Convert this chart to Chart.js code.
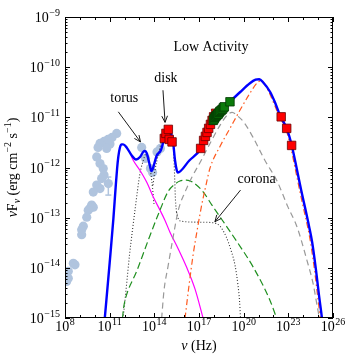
<!DOCTYPE html>
<html>
<head>
<meta charset="utf-8">
<script src="https://cdn.jsdelivr.net/npm/chart.js@4.4.0/dist/chart.umd.min.js"></script>
<style>
  html, body { margin: 0; padding: 0; background: #fff; }
  canvas { display: block; }
</style>
</head>
<body>
<canvas id="sedChart" width="354" height="362"></canvas>
<script>
// values are log10(nu / Hz) and log10(nuFnu / erg cm^-2 s^-1)

// radio / IR archival points (light blue circles)
const radioNu   = [11.47, 11.16, 10.89, 10.62, 10.35, 11.02, 10.80, 10.22, 10.13, 10.35, 10.57, 10.62, 10.46, 10.13, 10.35, 9.90, 9.79, 9.90, 9.68, 9.56, 9.46, 9.23, 9.12, 9.12, 8.56, 8.67, 8.22, 8.22, 8.11, 13.15, 13.41, 13.74, 13.88, 14.18, 14.41];
const radioFlux = [-11.32, -11.40, -11.44, -11.48, -11.52, -11.53, -11.62, -11.60, -11.79, -11.92, -12.02, -12.15, -12.22, -12.35, -12.42, -12.49, -12.75, -12.79, -12.81, -12.85, -12.99, -13.17, -13.24, -13.34, -13.91, -13.94, -14.07, -14.21, -14.27, -11.60, -11.82, -12.02, -12.10, -11.69, -11.62];
// the one radio point with an error bar
const errNu = 10.91;
const errFlux = -12.32;
const errLow = -12.55;
const errHigh = -12.19;

// red squares (optical/UV, X-ray, gamma)
const redNu   = [14.67, 14.78, 14.94, 15.00, 15.19, 17.11, 17.31, 17.43, 17.54, 17.65, 17.77, 17.88, 17.98, 18.12, 22.52, 22.89, 23.22];
const redFlux = [-11.42, -11.32, -11.24, -11.44, -11.49, -11.62, -11.46, -11.38, -11.30, -11.22, -11.14, -11.06, -10.99, -10.92, -10.99, -11.22, -11.56];

// green squares (hard X-ray)
const greenNu   = [17.96, 18.02, 18.07, 18.13, 18.19, 18.25, 18.30, 18.36, 18.41, 18.49, 18.57, 18.64, 18.70, 19.08];
const greenFlux = [-11.06, -11.03, -11.00, -10.98, -10.96, -10.94, -10.93, -10.90, -10.88, -10.86, -10.84, -10.81, -10.79, -10.69];

// total model (blue)
const totalNu   = [10.67, 11.0, 11.25, 11.4, 11.5, 11.58, 11.69, 11.8, 11.9, 12.14, 12.48, 12.77, 13.04, 13.25, 13.37, 13.5, 13.62, 13.71, 13.8, 13.88, 14.0, 14.16, 14.43, 14.6, 14.72, 14.83, 15.0, 15.17, 15.27, 15.39, 15.5, 15.57, 16.35, 17.11, 17.5, 17.9, 18.4, 19.08, 19.75, 20.42, 20.8, 21.05, 21.3, 21.77, 22.1, 22.44, 22.89, 23.23, 23.59, 23.86, 24.13, 24.39, 24.6, 24.86, 25.06, 25.26, 25.32];
const totalFlux = [-15.01, -13.9, -13.02, -12.4, -12.02, -11.79, -11.6, -11.54, -11.54, -11.6, -11.76, -11.84, -11.79, -11.69, -11.67, -11.72, -11.86, -11.97, -12.07, -12.04, -11.92, -11.76, -11.66, -11.49, -11.32, -11.26, -11.28, -11.36, -11.52, -11.86, -12.05, -12.1, -11.86, -11.63, -11.35, -11.08, -10.9, -10.69, -10.5, -10.32, -10.25, -10.24, -10.3, -10.49, -10.7, -10.96, -11.22, -11.56, -12.06, -12.45, -12.81, -13.17, -13.49, -14.05, -14.55, -15.01, -15.2];

// synchrotron (magenta)
const syncNu   = [12.45, 12.59, 13.04, 13.5, 13.93, 14.38, 14.71, 15.05, 15.6, 16.17, 16.73, 17.29];
const syncFlux = [-11.77, -11.86, -12.06, -12.3, -12.59, -12.85, -13.05, -13.29, -13.62, -13.99, -14.42, -15.02];

// torus (dotted)
const torusNu   = [11.90, 12.13, 12.33, 12.53, 12.70, 13.04, 13.26, 13.41, 13.54, 13.67, 13.78, 13.88, 13.98];
const torusFlux = [-15.01, -14.35, -13.75, -13.25, -12.85, -12.11, -11.86, -11.74, -11.78, -11.96, -12.15, -12.41, -12.75];

// disk (dotted)
const diskNu   = [13.91, 14.04, 14.25, 14.51, 14.71, 14.92, 15.12, 15.25, 15.32, 15.37, 15.42, 15.49];
const diskFlux = [-12.35, -12.06, -11.76, -11.46, -11.32, -11.29, -11.36, -11.52, -11.82, -12.25, -12.65, -12.89];

// corona (dotted)
const coronaNu   = [15.49, 15.59, 15.79, 17.07, 17.94, 18.41, 18.81, 19.15, 19.42, 19.62, 19.72, 19.79];
const coronaFlux = [-12.89, -13.01, -13.07, -13.09, -13.10, -13.17, -13.37, -13.65, -13.95, -14.35, -14.65, -15.01];

// SSC (green dashed)
const sscNu   = [11.86, 11.93, 12.03, 12.84, 13.64, 14.38, 14.94, 15.39, 15.72, 16.17, 16.62, 17.29, 17.87, 18.68, 19.53, 20.65, 21.77, 22.22];
const sscFlux = [-15.01, -14.81, -14.65, -14.05, -13.41, -12.85, -12.47, -12.33, -12.27, -12.25, -12.30, -12.49, -12.75, -13.10, -13.47, -13.99, -14.65, -15.01];

// EC disk (grey dashed)
const ecDiskNu   = [14.49, 14.65, 14.92, 15.25, 15.61, 16.06, 16.53, 17.07, 17.74, 18.41, 18.88, 19.22, 19.62, 20.02, 20.63, 21.43, 22.24, 22.98, 23.59, 24.25, 24.66, 24.99, 25.09];
const ecDiskFlux = [-15.01, -14.45, -13.97, -13.41, -12.85, -12.49, -12.19, -11.90, -11.52, -11.16, -10.96, -10.90, -10.98, -11.10, -11.40, -11.86, -12.27, -12.79, -13.19, -13.85, -14.31, -14.85, -15.01];

// EC torus (orange dash-dot)
const ecTorusNu   = [16.06, 16.33, 16.60, 16.90, 17.18, 17.47, 17.74, 18.41, 19.08, 19.75, 20.42, 20.89, 21.16, 21.4, 21.7, 22.4, 22.85, 23.15, 23.5, 23.77, 24.03, 24.3, 24.5, 24.77, 24.97, 25.16];
const ecTorusFlux = [-15.01, -14.35, -13.75, -13.21, -12.75, -12.35, -12.01, -11.58, -11.22, -10.86, -10.52, -10.32, -10.27, -10.33, -10.5, -10.98, -11.25, -11.58, -12.08, -12.47, -12.83, -13.19, -13.51, -14.07, -14.57, -15.03];

// axis ticks (exponents)
const xTickExps = [8, 11, 14, 17, 20, 23, 26];
const yTickExps = [-9, -10, -11, -12, -13, -14, -15];

const FONT = '"Liberation Serif", "DejaVu Serif", serif';

function toPoints(nu, flux) {
    return nu.map((v, i) => ({ x: Math.pow(10, v), y: Math.pow(10, flux[i]) }));
}

function curve(nu, flux, color, width, dash, order) {
    return {
        data: toPoints(nu, flux),
        showLine: true,
        pointRadius: 0,
        borderColor: color,
        borderWidth: width,
        borderDash: dash,
        cubicInterpolationMode: 'monotone',
        clip: 0,
        order: order
    };
}

function powLabel(c, exp, x, y, align) {
    const base = '10';
    const sup = String(exp).replace('-', '\u2212');
    c.font = '14px ' + FONT;
    const wb = c.measureText(base).width;
    c.font = '10px ' + FONT;
    const ws = c.measureText(sup).width;
    const x0 = align === 'right' ? x - wb - ws - 0.5 : x - (wb + ws + 0.5) / 2;
    c.textAlign = 'left';
    c.textBaseline = 'alphabetic';
    c.font = '14px ' + FONT;
    c.fillText(base, x0, y);
    c.font = '10px ' + FONT;
    c.fillText(sup, x0 + wb + 0.5, y - 6.5);
}

function arrow(c, x1, y1, x2, y2) {
    c.beginPath();
    c.moveTo(x1, y1);
    c.lineTo(x2, y2);
    c.stroke();
    const a = Math.atan2(y2 - y1, x2 - x1), L = 7, w = 0.42;
    c.beginPath();
    c.moveTo(x2 - L * Math.cos(a - w), y2 - L * Math.sin(a - w));
    c.lineTo(x2, y2);
    c.lineTo(x2 - L * Math.cos(a + w), y2 - L * Math.sin(a + w));
    c.stroke();
}

// frame, inward ticks, tick labels, titles and annotations
const decor = {
    id: 'decor',
    afterDatasetsDraw(chart) {
        const c = chart.ctx;
        const { left, right, top, bottom } = chart.chartArea;
        const xs = chart.scales.x, ys = chart.scales.y;
        const px = (e) => xs.getPixelForValue(Math.pow(10, e));
        const py = (e) => ys.getPixelForValue(Math.pow(10, e));
        c.save();
        c.strokeStyle = '#000';
        c.fillStyle = '#000';
        c.lineWidth = 1;

        // ticks on x (every decade)
        c.beginPath();
        for (let e = 8; e <= 26; e++) {
            const x = Math.round(px(e)) + 0.5;
            const len = xTickExps.includes(e) ? 5 : 3;
            c.moveTo(x, bottom); c.lineTo(x, bottom - len);
            c.moveTo(x, top); c.lineTo(x, top + len);
        }
        // ticks on y (decades + minor)
        for (let e = -15; e <= -9; e++) {
            for (let m = 1; m <= 9; m++) {
                if (e === -9 && m > 1) break;
                const v = Math.log10(m) + e;
                const y = Math.round(py(v)) + 0.5;
                const len = m === 1 ? 5 : 2.5;
                c.moveTo(left, y); c.lineTo(left + len, y);
                c.moveTo(right, y); c.lineTo(right - len, y);
            }
        }
        c.stroke();
        c.strokeRect(left + 0.5, top + 0.5, right - left - 1, bottom - top - 1);

        xTickExps.forEach(e => powLabel(c, e, px(e), 331, 'center'));
        yTickExps.forEach(e => powLabel(c, e, 60, py(e) + 5, 'right'));

        // x title
        c.font = 'italic 14px ' + FONT;
        const wNu = c.measureText('\u03bd').width;
        c.font = '14px ' + FONT;
        const wHz = c.measureText(' (Hz)').width;
        let x0 = (left + right) / 2 - (wNu + wHz) / 2;
        c.textAlign = 'left';
        c.textBaseline = 'alphabetic';
        c.font = 'italic 14px ' + FONT;
        c.fillText('\u03bd', x0, 350);
        c.font = '14px ' + FONT;
        c.fillText(' (Hz)', x0 + wNu, 350);

        // y title, rotated
        const parts = [
            { t: '\u03bd', f: 'italic 14px', dy: 0 },
            { t: 'F', f: '14px', dy: 0 },
            { t: '\u03bd', f: 'italic 10px', dy: 3 },
            { t: ' (erg cm', f: '14px', dy: 0 },
            { t: '\u22122', f: '10px', dy: -6 },
            { t: ' s', f: '14px', dy: 0 },
            { t: '\u22121', f: '10px', dy: -6 },
            { t: ')', f: '14px', dy: 0 }
        ];
        let total = 0;
        parts.forEach(p => { c.font = p.f + ' ' + FONT; p.w = c.measureText(p.t).width; total += p.w; });
        c.save();
        c.translate(17, (top + bottom) / 2);
        c.rotate(-Math.PI / 2);
        let cx = -total / 2;
        parts.forEach(p => {
            c.font = p.f + ' ' + FONT;
            c.fillText(p.t, cx, p.dy);
            cx += p.w;
        });
        c.restore();

        // annotations
        c.font = '14px ' + FONT;
        c.textAlign = 'center';
        c.textBaseline = 'middle';
        c.fillText('Low Activity', px(17.8), py(-9.61));
        c.fillText('torus', px(11.98), py(-10.62));
        c.fillText('disk', px(14.78), py(-10.22));
        c.fillText('corona', px(20.87), py(-12.24));
        c.lineWidth = 0.9;
        arrow(c, px(11.58), py(-10.89), px(13.07), py(-11.49));
        arrow(c, px(14.58), py(-10.46), px(14.72), py(-11.10));
        arrow(c, px(19.79), py(-12.45), px(18.07), py(-13.08));
        c.restore();
    }
};

const datasets = [
    {
        data: toPoints(greenNu, greenFlux),
        pointStyle: 'rect', pointRadius: 6,
        backgroundColor: '#0a7a0a', borderColor: '#033803', borderWidth: 0.8,
        clip: 0, order: 0
    },
    {
        data: toPoints(redNu, redFlux),
        pointStyle: 'rect', pointRadius: 6,
        backgroundColor: '#ff0000', borderColor: '#6a0000', borderWidth: 0.8,
        clip: 0, order: 1
    },
    curve(totalNu, totalFlux, '#0000ff', 2.4, [], 2),
    curve(ecTorusNu, ecTorusFlux, '#ff5a1f', 1.2, [6, 3, 1.5, 3], 3),
    curve(ecDiskNu, ecDiskFlux, '#999999', 1.2, [6, 4], 4),
    curve(sscNu, sscFlux, '#1f8f1f', 1.2, [7, 3.5], 5),
    curve(syncNu, syncFlux, '#ff00ff', 1.2, [], 6),
    curve(torusNu, torusFlux, '#333333', 1.1, [1, 2], 7),
    curve(diskNu, diskFlux, '#333333', 1.1, [1, 2], 7),
    curve(coronaNu, coronaFlux, '#333333', 1.1, [1, 2], 7),
    {
        data: toPoints([errNu, errNu], [errLow, errHigh]),
        showLine: true, pointStyle: 'line', pointRadius: 3,
        borderColor: '#b0c4de', borderWidth: 1.5, clip: 0, order: 9
    },
    {
        data: toPoints([errNu].concat(radioNu), [errFlux].concat(radioFlux)),
        pointStyle: 'circle', pointRadius: 4.6,
        backgroundColor: '#b0c4de', borderWidth: 0,
        clip: 0, order: 10
    }
];

const canvas = document.getElementById('sedChart');
const ctx = canvas.getContext('2d');
const sedChart = new Chart(ctx, {
    type: 'scatter',
    data: { datasets: datasets },
    options: {
        responsive: false,
        animation: false,
        events: [],
        layout: { padding: { left: 65, right: 21, top: 17, bottom: 44 }, autoPadding: false },
        scales: {
            x: { type: 'logarithmic', min: 1e8, max: 1e26, display: false },
            y: { type: 'logarithmic', min: 1e-15, max: 1e-9, display: false }
        },
        plugins: { legend: { display: false }, tooltip: { enabled: false } }
    },
    plugins: [decor]
});
</script>
</body>
</html>
